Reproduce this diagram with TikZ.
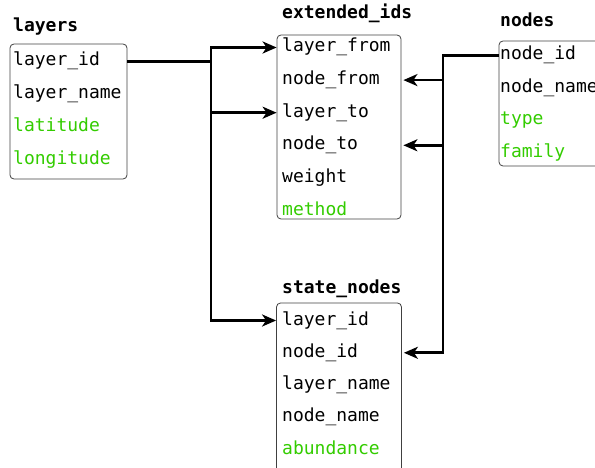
\documentclass[tikz,border=0pt]{standalone}
\usepackage{fontspec}
\setmonofont{DejaVu Sans Mono}
\usetikzlibrary{arrows.meta}
\definecolor{fieldgreen}{RGB}{51,204,0}
\tikzset{
	tablebox/.style={draw=black!75, line width=0.8pt, rounded corners=4pt, inner sep=0pt},
	field/.style={anchor=base west, inner sep=0pt, text height=13pt, text depth=4pt, font=\fontsize{18}{22}\selectfont\ttfamily},
	title/.style={anchor=base west, inner sep=0pt, font=\fontsize{18}{22}\selectfont\ttfamily\bfseries},
	link/.style={line width=2.8pt, -{Stealth[length=14pt 0, width=12pt 0, inset=4pt 0]}}
}
\begin{document}
\begin{tikzpicture}[x=1pt, y=-1pt]
	\clip (0,0) rectangle (595,468);
	% tables
	\node[tablebox, minimum width=117pt, minimum height=135pt] (layers) at (68.5,111.5) {};
	\node[tablebox, minimum width=124pt, minimum height=184pt] (ext) at (339,127) {};
	\node[tablebox, minimum width=121pt, minimum height=125pt] (nodes) at (559.5,103.5) {};
	\node[tablebox, minimum width=125pt, minimum height=180pt] (state) at (339,393) {};
	% titles
	\node[title] (t-layers) at (13,32) {layers};
	\node[title] (t-ext) at (282,19) {extended\_ids};
	\node[title] (t-nodes) at (500,27) {nodes};
	\node[title] (t-state) at (282,293) {state\_nodes};
	% fields
	\foreach \nm/\txt/\col [count=\i from 0] in {id/layer\_id/black, name/layer\_name/black, lat/latitude/fieldgreen, lon/longitude/fieldgreen}
		\node[field, text=\col] (l-\nm) at (13,{66+32.7*\i}) {\txt};
	\foreach \nm/\txt/\col [count=\i from 0] in {lf/layer\_from/black, nf/node\_from/black, lt/layer\_to/black, nt/node\_to/black, w/weight/black, m/method/fieldgreen}
		\node[field, text=\col] (e-\nm) at (282,{52+32.6*\i}) {\txt};
	\foreach \nm/\txt/\col [count=\i from 0] in {id/node\_id/black, name/node\_name/black, type/type/fieldgreen, fam/family/fieldgreen}
		\node[field, text=\col] (n-\nm) at (500,{60+32.4*\i}) {\txt};
	\foreach \nm/\txt/\col [count=\i from 0] in {lid/layer\_id/black, nid/node\_id/black, lname/layer\_name/black, nname/node\_name/black, ab/abundance/fieldgreen}
		\node[field, text=\col] (s-\nm) at (282,{325+32.3*\i}) {\txt};
	% links
	\coordinate (jl) at (211,0);
	\coordinate (jr) at (443,0);
	\draw[link] (layers.east |- l-id) -| (jl |- e-lf) -- (ext.west |- e-lf);
	\draw[link] (layers.east |- l-id) -| (jl |- e-lt) -- (ext.west |- e-lt);
	\draw[link] (layers.east |- l-id) -| (jl |- s-lid) -- (state.west |- s-lid);
	\draw[link] (nodes.west |- n-id) -| (jr |- e-nf) -- ([xshift=2pt]ext.east |- e-nf);
	\draw[link] (nodes.west |- n-id) -| (jr |- e-nt) -- ([xshift=2pt]ext.east |- e-nt);
	\draw[link] (nodes.west |- n-id) -| (jr |- s-nid) -- ([xshift=2pt]state.east |- s-nid);
\end{tikzpicture}
\end{document}
